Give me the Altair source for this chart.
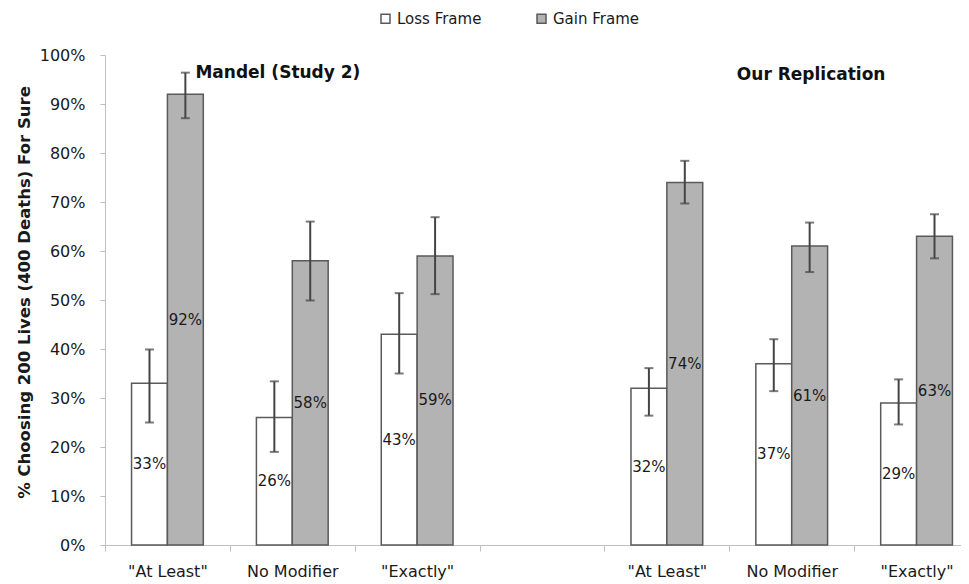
import altair as alt
import pandas as pd

# Categories along the x axis (one empty slot separates the two studies)
cat_keys = ["M_AL", "M_NM", "M_EX", "GAP", "R_AL", "R_NM", "R_EX"]
cat_labels = ['"At Least"', "No Modifier", '"Exactly"', "", '"At Least"', "No Modifier", '"Exactly"']
data_keys = ["M_AL", "M_NM", "M_EX", "R_AL", "R_NM", "R_EX"]

frames = ["Loss Frame", "Gain Frame"]

# Percent choosing the sure option
loss_pct = [33, 26, 43, 32, 37, 29]
gain_pct = [92, 58, 59, 74, 61, 63]

# Error bar ends
loss_lo = [25.0, 19.0, 35.0, 26.4, 31.4, 24.6]
loss_hi = [39.9, 33.4, 51.4, 36.1, 42.0, 33.8]
gain_lo = [87.1, 49.9, 51.2, 69.7, 55.7, 58.5]
gain_hi = [96.4, 66.0, 66.9, 78.4, 65.8, 67.5]

# Panel annotations
ann_text = ["Mandel (Study 2)", "Our Replication"]
ann_cat = ["M_AL", "R_AL"]
ann_y = [96.3, 95.9]

rows = []
for i, k in enumerate(data_keys):
    rows.append(dict(cat=k, frame="Loss Frame", pct=loss_pct[i], lo=loss_lo[i], hi=loss_hi[i],
                     mid=loss_pct[i] / 2, label=f"{loss_pct[i]}%"))
    rows.append(dict(cat=k, frame="Gain Frame", pct=gain_pct[i], lo=gain_lo[i], hi=gain_hi[i],
                     mid=gain_pct[i] / 2, label=f"{gain_pct[i]}%"))
df = pd.DataFrame(rows)

ann = pd.DataFrame({"cat": ann_cat, "y": ann_y, "text": ann_text})

label_expr = ""
for k, l in zip(cat_keys, cat_labels):
    label_expr += f"datum.value == '{k}' ? '{l}' : "
label_expr += "''"

x_enc = alt.X(
    "cat:N",
    scale=alt.Scale(domain=cat_keys, paddingInner=0, paddingOuter=0, range=[0, 874]),
    axis=alt.Axis(
        title=None, labelExpr=label_expr, labelAngle=0, tickBand="extent",
        labelFontSize=16, labelColor="#1a1a1a", labelPadding=12, tickSize=6,
        domainColor="#bfbfbf", tickColor="#bfbfbf", grid=False,
    ),
)
xo_enc = alt.XOffset("frame:N", scale=alt.Scale(domain=frames, paddingInner=0, paddingOuter=0.74))
y_scale = alt.Scale(domain=[0, 100], nice=False)

bars = alt.Chart(df).mark_bar(stroke="#5a5a5a", strokeWidth=1.5).encode(
    x=x_enc,
    xOffset=xo_enc,
    y=alt.Y(
        "pct:Q", scale=y_scale,
        axis=alt.Axis(
            values=list(range(0, 101, 10)), labelExpr="datum.value + '%'", grid=False,
            tickSize=5, labelPadding=15, labelFontSize=16, labelColor="#1a1a1a",
            title="% Choosing 200 Lives (400 Deaths) For Sure", titleFontSize=16.5,
            titleFontWeight="bold", titleColor="#1a1a1a", titlePadding=7, titleY=237,
            domainColor="#bfbfbf", tickColor="#bfbfbf",
        ),
    ),
    color=alt.Color(
        "frame:N",
        scale=alt.Scale(domain=frames, range=["#ffffff", "#b3b3b3"]),
        legend=alt.Legend(
            title=None, orient="none", direction="horizontal", legendX=273, legendY=-44,
            symbolType="square", symbolSize=81, symbolStrokeColor="#5a5a5a",
            symbolStrokeWidth=1.5, labelFontSize=15, labelColor="#1a1a1a",
            columnPadding=52, labelOffset=4,
        ),
    ),
)

err = alt.Chart(df).mark_rule(color="#454545", strokeWidth=2).encode(
    x=x_enc, xOffset=xo_enc, y=alt.Y("lo:Q", scale=y_scale), y2="hi:Q"
)
cap_lo = alt.Chart(df).mark_tick(color="#454545", size=9, thickness=2).encode(
    x=x_enc, xOffset=xo_enc, y=alt.Y("lo:Q", scale=y_scale)
)
cap_hi = alt.Chart(df).mark_tick(color="#454545", size=9, thickness=2).encode(
    x=x_enc, xOffset=xo_enc, y=alt.Y("hi:Q", scale=y_scale)
)

labels = alt.Chart(df).mark_text(fontSize=15, color="#1a1a1a").encode(
    x=x_enc, xOffset=xo_enc, y=alt.Y("mid:Q", scale=y_scale), text="label:N"
)

ann_m = alt.Chart(ann).transform_filter("datum.cat == 'M_AL'").mark_text(
    align="left", fontSize=17, fontWeight="bold", color="#111111", dx=28
).encode(x=x_enc, y=alt.Y("y:Q", scale=y_scale), text="text:N")
ann_r = alt.Chart(ann).transform_filter("datum.cat == 'R_AL'").mark_text(
    align="left", fontSize=17, fontWeight="bold", color="#111111", dx=70
).encode(x=x_enc, y=alt.Y("y:Q", scale=y_scale), text="text:N")

chart = alt.layer(bars, err, cap_lo, cap_hi, labels, ann_m, ann_r).properties(
    width=856, height=490,
    autosize=alt.AutoSizeParams(type="none"),
    padding={"left": 97, "top": 47, "right": 0, "bottom": 38},
).configure(font="DejaVu Sans").configure_view(stroke=None)

chart.save("out.html", embed_options={"renderer": "svg", "actions": False})
